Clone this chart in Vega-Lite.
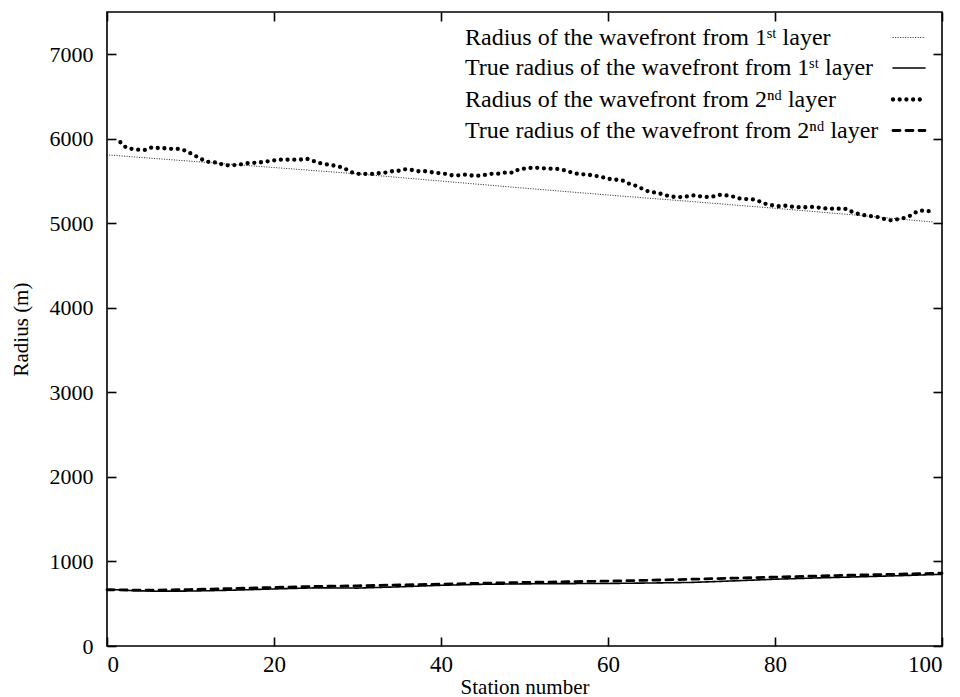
{
  "$schema": "https://vega.github.io/schema/vega-lite/v6.json",
  "width": 835,
  "height": 634,
  "autosize": "none",
  "padding": {"left": 107, "top": 12, "right": 18, "bottom": 51},
  "background": "white",
  "config": {
    "view": {"stroke": "black", "strokeWidth": 1.6},
    "font": "Liberation Serif",
    "style": {
      "guide-label": {"font": "Liberation Serif", "fontSize": 22, "fill": "black"},
      "guide-title": {"font": "Liberation Serif", "fontSize": 21, "fontWeight": "normal", "fill": "black"}
    },
    "axis": {"grid": false, "domain": false, "tickColor": "black", "tickWidth": 1.6, "tickSize": -9, "labelColor": "black", "labelFont": "Liberation Serif", "labelFontSize": 22, "labelFontWeight": "normal", "titleFont": "Liberation Serif", "titleFontWeight": "normal", "titleColor": "black", "titleFontSize": 21}
  },
  "data": {
    "values": [
      {"station": 0, "radius": 5810, "series": "Radius of the wavefront from 1ˢᵗ layer"},
      {"station": 10, "radius": 5735, "series": "Radius of the wavefront from 1ˢᵗ layer"},
      {"station": 20, "radius": 5660, "series": "Radius of the wavefront from 1ˢᵗ layer"},
      {"station": 30, "radius": 5585, "series": "Radius of the wavefront from 1ˢᵗ layer"},
      {"station": 40, "radius": 5500, "series": "Radius of the wavefront from 1ˢᵗ layer"},
      {"station": 50, "radius": 5416, "series": "Radius of the wavefront from 1ˢᵗ layer"},
      {"station": 60, "radius": 5335, "series": "Radius of the wavefront from 1ˢᵗ layer"},
      {"station": 70, "radius": 5258, "series": "Radius of the wavefront from 1ˢᵗ layer"},
      {"station": 80, "radius": 5178, "series": "Radius of the wavefront from 1ˢᵗ layer"},
      {"station": 90, "radius": 5095, "series": "Radius of the wavefront from 1ˢᵗ layer"},
      {"station": 99, "radius": 5015, "series": "Radius of the wavefront from 1ˢᵗ layer"},

      {"station": 0, "radius": 672, "series": "True radius of the wavefront from 1ˢᵗ layer"},
      {"station": 3, "radius": 655, "series": "True radius of the wavefront from 1ˢᵗ layer"},
      {"station": 6, "radius": 648, "series": "True radius of the wavefront from 1ˢᵗ layer"},
      {"station": 10, "radius": 650, "series": "True radius of the wavefront from 1ˢᵗ layer"},
      {"station": 15, "radius": 660, "series": "True radius of the wavefront from 1ˢᵗ layer"},
      {"station": 20, "radius": 675, "series": "True radius of the wavefront from 1ˢᵗ layer"},
      {"station": 25, "radius": 688, "series": "True radius of the wavefront from 1ˢᵗ layer"},
      {"station": 30, "radius": 685, "series": "True radius of the wavefront from 1ˢᵗ layer"},
      {"station": 35, "radius": 700, "series": "True radius of the wavefront from 1ˢᵗ layer"},
      {"station": 40, "radius": 718, "series": "True radius of the wavefront from 1ˢᵗ layer"},
      {"station": 45, "radius": 730, "series": "True radius of the wavefront from 1ˢᵗ layer"},
      {"station": 50, "radius": 735, "series": "True radius of the wavefront from 1ˢᵗ layer"},
      {"station": 55, "radius": 738, "series": "True radius of the wavefront from 1ˢᵗ layer"},
      {"station": 60, "radius": 740, "series": "True radius of the wavefront from 1ˢᵗ layer"},
      {"station": 65, "radius": 745, "series": "True radius of the wavefront from 1ˢᵗ layer"},
      {"station": 70, "radius": 752, "series": "True radius of the wavefront from 1ˢᵗ layer"},
      {"station": 75, "radius": 770, "series": "True radius of the wavefront from 1ˢᵗ layer"},
      {"station": 80, "radius": 790, "series": "True radius of the wavefront from 1ˢᵗ layer"},
      {"station": 85, "radius": 805, "series": "True radius of the wavefront from 1ˢᵗ layer"},
      {"station": 90, "radius": 818, "series": "True radius of the wavefront from 1ˢᵗ layer"},
      {"station": 95, "radius": 832, "series": "True radius of the wavefront from 1ˢᵗ layer"},
      {"station": 100, "radius": 848, "series": "True radius of the wavefront from 1ˢᵗ layer"},

      {"station": 1.6, "radius": 5959, "series": "Radius of the wavefront from 2ⁿᵈ layer"},
      {"station": 2.3, "radius": 5895, "series": "Radius of the wavefront from 2ⁿᵈ layer"},
      {"station": 3.0, "radius": 5880, "series": "Radius of the wavefront from 2ⁿᵈ layer"},
      {"station": 3.7, "radius": 5871, "series": "Radius of the wavefront from 2ⁿᵈ layer"},
      {"station": 4.6, "radius": 5868, "series": "Radius of the wavefront from 2ⁿᵈ layer"},
      {"station": 5.4, "radius": 5899, "series": "Radius of the wavefront from 2ⁿᵈ layer"},
      {"station": 6.1, "radius": 5891, "series": "Radius of the wavefront from 2ⁿᵈ layer"},
      {"station": 7.0, "radius": 5888, "series": "Radius of the wavefront from 2ⁿᵈ layer"},
      {"station": 7.8, "radius": 5880, "series": "Radius of the wavefront from 2ⁿᵈ layer"},
      {"station": 8.7, "radius": 5880, "series": "Radius of the wavefront from 2ⁿᵈ layer"},
      {"station": 9.5, "radius": 5856, "series": "Radius of the wavefront from 2ⁿᵈ layer"},
      {"station": 10.2, "radius": 5817, "series": "Radius of the wavefront from 2ⁿᵈ layer"},
      {"station": 11.0, "radius": 5777, "series": "Radius of the wavefront from 2ⁿᵈ layer"},
      {"station": 11.7, "radius": 5738, "series": "Radius of the wavefront from 2ⁿᵈ layer"},
      {"station": 12.5, "radius": 5718, "series": "Radius of the wavefront from 2ⁿᵈ layer"},
      {"station": 13.2, "radius": 5722, "series": "Radius of the wavefront from 2ⁿᵈ layer"},
      {"station": 14.0, "radius": 5686, "series": "Radius of the wavefront from 2ⁿᵈ layer"},
      {"station": 14.8, "radius": 5686, "series": "Radius of the wavefront from 2ⁿᵈ layer"},
      {"station": 15.8, "radius": 5694, "series": "Radius of the wavefront from 2ⁿᵈ layer"},
      {"station": 16.7, "radius": 5710, "series": "Radius of the wavefront from 2ⁿᵈ layer"},
      {"station": 17.3, "radius": 5714, "series": "Radius of the wavefront from 2ⁿᵈ layer"},
      {"station": 18.1, "radius": 5718, "series": "Radius of the wavefront from 2ⁿᵈ layer"},
      {"station": 19.0, "radius": 5730, "series": "Radius of the wavefront from 2ⁿᵈ layer"},
      {"station": 19.6, "radius": 5738, "series": "Radius of the wavefront from 2ⁿᵈ layer"},
      {"station": 20.5, "radius": 5753, "series": "Radius of the wavefront from 2ⁿᵈ layer"},
      {"station": 21.4, "radius": 5753, "series": "Radius of the wavefront from 2ⁿᵈ layer"},
      {"station": 22.2, "radius": 5753, "series": "Radius of the wavefront from 2ⁿᵈ layer"},
      {"station": 23.1, "radius": 5753, "series": "Radius of the wavefront from 2ⁿᵈ layer"},
      {"station": 23.9, "radius": 5765, "series": "Radius of the wavefront from 2ⁿᵈ layer"},
      {"station": 24.6, "radius": 5741, "series": "Radius of the wavefront from 2ⁿᵈ layer"},
      {"station": 25.4, "radius": 5714, "series": "Radius of the wavefront from 2ⁿᵈ layer"},
      {"station": 26.2, "radius": 5699, "series": "Radius of the wavefront from 2ⁿᵈ layer"},
      {"station": 27.0, "radius": 5686, "series": "Radius of the wavefront from 2ⁿᵈ layer"},
      {"station": 27.6, "radius": 5678, "series": "Radius of the wavefront from 2ⁿᵈ layer"},
      {"station": 28.4, "radius": 5651, "series": "Radius of the wavefront from 2ⁿᵈ layer"},
      {"station": 29.4, "radius": 5600, "series": "Radius of the wavefront from 2ⁿᵈ layer"},
      {"station": 30.2, "radius": 5584, "series": "Radius of the wavefront from 2ⁿᵈ layer"},
      {"station": 30.9, "radius": 5584, "series": "Radius of the wavefront from 2ⁿᵈ layer"},
      {"station": 31.8, "radius": 5584, "series": "Radius of the wavefront from 2ⁿᵈ layer"},
      {"station": 32.4, "radius": 5592, "series": "Radius of the wavefront from 2ⁿᵈ layer"},
      {"station": 33.3, "radius": 5600, "series": "Radius of the wavefront from 2ⁿᵈ layer"},
      {"station": 34.1, "radius": 5616, "series": "Radius of the wavefront from 2ⁿᵈ layer"},
      {"station": 34.8, "radius": 5619, "series": "Radius of the wavefront from 2ⁿᵈ layer"},
      {"station": 35.7, "radius": 5639, "series": "Radius of the wavefront from 2ⁿᵈ layer"},
      {"station": 36.5, "radius": 5631, "series": "Radius of the wavefront from 2ⁿᵈ layer"},
      {"station": 37.3, "radius": 5616, "series": "Radius of the wavefront from 2ⁿᵈ layer"},
      {"station": 38.1, "radius": 5616, "series": "Radius of the wavefront from 2ⁿᵈ layer"},
      {"station": 38.9, "radius": 5604, "series": "Radius of the wavefront from 2ⁿᵈ layer"},
      {"station": 39.6, "radius": 5596, "series": "Radius of the wavefront from 2ⁿᵈ layer"},
      {"station": 40.6, "radius": 5584, "series": "Radius of the wavefront from 2ⁿᵈ layer"},
      {"station": 41.3, "radius": 5568, "series": "Radius of the wavefront from 2ⁿᵈ layer"},
      {"station": 42.1, "radius": 5568, "series": "Radius of the wavefront from 2ⁿᵈ layer"},
      {"station": 42.9, "radius": 5576, "series": "Radius of the wavefront from 2ⁿᵈ layer"},
      {"station": 43.8, "radius": 5564, "series": "Radius of the wavefront from 2ⁿᵈ layer"},
      {"station": 44.6, "radius": 5564, "series": "Radius of the wavefront from 2ⁿᵈ layer"},
      {"station": 45.5, "radius": 5576, "series": "Radius of the wavefront from 2ⁿᵈ layer"},
      {"station": 46.2, "radius": 5588, "series": "Radius of the wavefront from 2ⁿᵈ layer"},
      {"station": 47.1, "radius": 5588, "series": "Radius of the wavefront from 2ⁿᵈ layer"},
      {"station": 47.7, "radius": 5600, "series": "Radius of the wavefront from 2ⁿᵈ layer"},
      {"station": 48.7, "radius": 5600, "series": "Radius of the wavefront from 2ⁿᵈ layer"},
      {"station": 49.3, "radius": 5639, "series": "Radius of the wavefront from 2ⁿᵈ layer"},
      {"station": 50.3, "radius": 5651, "series": "Radius of the wavefront from 2ⁿᵈ layer"},
      {"station": 51.1, "radius": 5659, "series": "Radius of the wavefront from 2ⁿᵈ layer"},
      {"station": 51.9, "radius": 5655, "series": "Radius of the wavefront from 2ⁿᵈ layer"},
      {"station": 52.8, "radius": 5647, "series": "Radius of the wavefront from 2ⁿᵈ layer"},
      {"station": 53.6, "radius": 5647, "series": "Radius of the wavefront from 2ⁿᵈ layer"},
      {"station": 54.3, "radius": 5639, "series": "Radius of the wavefront from 2ⁿᵈ layer"},
      {"station": 55.1, "radius": 5619, "series": "Radius of the wavefront from 2ⁿᵈ layer"},
      {"station": 55.8, "radius": 5596, "series": "Radius of the wavefront from 2ⁿᵈ layer"},
      {"station": 56.6, "radius": 5580, "series": "Radius of the wavefront from 2ⁿᵈ layer"},
      {"station": 57.4, "radius": 5580, "series": "Radius of the wavefront from 2ⁿᵈ layer"},
      {"station": 58.3, "radius": 5564, "series": "Radius of the wavefront from 2ⁿᵈ layer"},
      {"station": 59.1, "radius": 5553, "series": "Radius of the wavefront from 2ⁿᵈ layer"},
      {"station": 59.9, "radius": 5529, "series": "Radius of the wavefront from 2ⁿᵈ layer"},
      {"station": 60.7, "radius": 5517, "series": "Radius of the wavefront from 2ⁿᵈ layer"},
      {"station": 61.6, "radius": 5513, "series": "Radius of the wavefront from 2ⁿᵈ layer"},
      {"station": 62.4, "radius": 5474, "series": "Radius of the wavefront from 2ⁿᵈ layer"},
      {"station": 63.2, "radius": 5450, "series": "Radius of the wavefront from 2ⁿᵈ layer"},
      {"station": 63.9, "radius": 5418, "series": "Radius of the wavefront from 2ⁿᵈ layer"},
      {"station": 64.6, "radius": 5386, "series": "Radius of the wavefront from 2ⁿᵈ layer"},
      {"station": 65.2, "radius": 5367, "series": "Radius of the wavefront from 2ⁿᵈ layer"},
      {"station": 65.9, "radius": 5363, "series": "Radius of the wavefront from 2ⁿᵈ layer"},
      {"station": 66.7, "radius": 5336, "series": "Radius of the wavefront from 2ⁿᵈ layer"},
      {"station": 67.5, "radius": 5320, "series": "Radius of the wavefront from 2ⁿᵈ layer"},
      {"station": 68.3, "radius": 5308, "series": "Radius of the wavefront from 2ⁿᵈ layer"},
      {"station": 69.3, "radius": 5316, "series": "Radius of the wavefront from 2ⁿᵈ layer"},
      {"station": 70.1, "radius": 5332, "series": "Radius of the wavefront from 2ⁿᵈ layer"},
      {"station": 70.7, "radius": 5324, "series": "Radius of the wavefront from 2ⁿᵈ layer"},
      {"station": 71.6, "radius": 5312, "series": "Radius of the wavefront from 2ⁿᵈ layer"},
      {"station": 72.4, "radius": 5312, "series": "Radius of the wavefront from 2ⁿᵈ layer"},
      {"station": 73.3, "radius": 5336, "series": "Radius of the wavefront from 2ⁿᵈ layer"},
      {"station": 74.1, "radius": 5332, "series": "Radius of the wavefront from 2ⁿᵈ layer"},
      {"station": 74.9, "radius": 5320, "series": "Radius of the wavefront from 2ⁿᵈ layer"},
      {"station": 75.6, "radius": 5296, "series": "Radius of the wavefront from 2ⁿᵈ layer"},
      {"station": 76.4, "radius": 5288, "series": "Radius of the wavefront from 2ⁿᵈ layer"},
      {"station": 77.3, "radius": 5284, "series": "Radius of the wavefront from 2ⁿᵈ layer"},
      {"station": 78.1, "radius": 5261, "series": "Radius of the wavefront from 2ⁿᵈ layer"},
      {"station": 78.9, "radius": 5229, "series": "Radius of the wavefront from 2ⁿᵈ layer"},
      {"station": 79.7, "radius": 5213, "series": "Radius of the wavefront from 2ⁿᵈ layer"},
      {"station": 80.4, "radius": 5202, "series": "Radius of the wavefront from 2ⁿᵈ layer"},
      {"station": 81.4, "radius": 5209, "series": "Radius of the wavefront from 2ⁿᵈ layer"},
      {"station": 82.2, "radius": 5194, "series": "Radius of the wavefront from 2ⁿᵈ layer"},
      {"station": 83.0, "radius": 5190, "series": "Radius of the wavefront from 2ⁿᵈ layer"},
      {"station": 83.8, "radius": 5190, "series": "Radius of the wavefront from 2ⁿᵈ layer"},
      {"station": 84.5, "radius": 5194, "series": "Radius of the wavefront from 2ⁿᵈ layer"},
      {"station": 85.3, "radius": 5186, "series": "Radius of the wavefront from 2ⁿᵈ layer"},
      {"station": 86.2, "radius": 5174, "series": "Radius of the wavefront from 2ⁿᵈ layer"},
      {"station": 87.0, "radius": 5174, "series": "Radius of the wavefront from 2ⁿᵈ layer"},
      {"station": 87.8, "radius": 5174, "series": "Radius of the wavefront from 2ⁿᵈ layer"},
      {"station": 88.6, "radius": 5170, "series": "Radius of the wavefront from 2ⁿᵈ layer"},
      {"station": 89.2, "radius": 5138, "series": "Radius of the wavefront from 2ⁿᵈ layer"},
      {"station": 90.1, "radius": 5107, "series": "Radius of the wavefront from 2ⁿᵈ layer"},
      {"station": 90.8, "radius": 5095, "series": "Radius of the wavefront from 2ⁿᵈ layer"},
      {"station": 91.6, "radius": 5083, "series": "Radius of the wavefront from 2ⁿᵈ layer"},
      {"station": 92.4, "radius": 5072, "series": "Radius of the wavefront from 2ⁿᵈ layer"},
      {"station": 93.2, "radius": 5048, "series": "Radius of the wavefront from 2ⁿᵈ layer"},
      {"station": 94.0, "radius": 5032, "series": "Radius of the wavefront from 2ⁿᵈ layer"},
      {"station": 94.8, "radius": 5052, "series": "Radius of the wavefront from 2ⁿᵈ layer"},
      {"station": 95.7, "radius": 5068, "series": "Radius of the wavefront from 2ⁿᵈ layer"},
      {"station": 96.3, "radius": 5095, "series": "Radius of the wavefront from 2ⁿᵈ layer"},
      {"station": 97.0, "radius": 5138, "series": "Radius of the wavefront from 2ⁿᵈ layer"},
      {"station": 97.8, "radius": 5154, "series": "Radius of the wavefront from 2ⁿᵈ layer"},
      {"station": 98.7, "radius": 5138, "series": "Radius of the wavefront from 2ⁿᵈ layer"},

      {"station": 0, "radius": 665, "series": "True radius of the wavefront from 2ⁿᵈ layer"},
      {"station": 5, "radius": 660, "series": "True radius of the wavefront from 2ⁿᵈ layer"},
      {"station": 10, "radius": 668, "series": "True radius of the wavefront from 2ⁿᵈ layer"},
      {"station": 15, "radius": 680, "series": "True radius of the wavefront from 2ⁿᵈ layer"},
      {"station": 20, "radius": 692, "series": "True radius of the wavefront from 2ⁿᵈ layer"},
      {"station": 25, "radius": 705, "series": "True radius of the wavefront from 2ⁿᵈ layer"},
      {"station": 30, "radius": 712, "series": "True radius of the wavefront from 2ⁿᵈ layer"},
      {"station": 35, "radius": 722, "series": "True radius of the wavefront from 2ⁿᵈ layer"},
      {"station": 40, "radius": 732, "series": "True radius of the wavefront from 2ⁿᵈ layer"},
      {"station": 45, "radius": 742, "series": "True radius of the wavefront from 2ⁿᵈ layer"},
      {"station": 50, "radius": 752, "series": "True radius of the wavefront from 2ⁿᵈ layer"},
      {"station": 55, "radius": 760, "series": "True radius of the wavefront from 2ⁿᵈ layer"},
      {"station": 60, "radius": 768, "series": "True radius of the wavefront from 2ⁿᵈ layer"},
      {"station": 65, "radius": 778, "series": "True radius of the wavefront from 2ⁿᵈ layer"},
      {"station": 70, "radius": 790, "series": "True radius of the wavefront from 2ⁿᵈ layer"},
      {"station": 75, "radius": 802, "series": "True radius of the wavefront from 2ⁿᵈ layer"},
      {"station": 80, "radius": 815, "series": "True radius of the wavefront from 2ⁿᵈ layer"},
      {"station": 85, "radius": 828, "series": "True radius of the wavefront from 2ⁿᵈ layer"},
      {"station": 90, "radius": 840, "series": "True radius of the wavefront from 2ⁿᵈ layer"},
      {"station": 95, "radius": 850, "series": "True radius of the wavefront from 2ⁿᵈ layer"},
      {"station": 100, "radius": 862, "series": "True radius of the wavefront from 2ⁿᵈ layer"}
    ]
  },
  "layer": [
    {
      "mark": {"type": "line", "color": "black", "strokeCap": "round", "strokeJoin": "round"},
      "encoding": {
        "x": {
          "field": "station", "type": "quantitative",
          "scale": {"domain": [0, 100], "nice": false, "zero": false},
          "axis": {"orient": "bottom", "values": [0, 20, 40, 60, 80, 100], "format": "d", "labelFont": "Liberation Serif", "labelFontSize": 23, "labelPadding": 16, "title": "Station number", "titleFont": "Liberation Serif", "titleFontSize": 21, "titlePadding": 0}
        },
        "y": {
          "field": "radius", "type": "quantitative",
          "scale": {"domain": [0, 7500], "nice": false},
          "axis": {"orient": "left", "values": [0, 1000, 2000, 3000, 4000, 5000, 6000, 7000], "format": "d", "labelFont": "Liberation Serif", "labelFontSize": 22, "labelPadding": 23, "title": "Radius (m)", "titleFont": "Liberation Serif", "titleFontSize": 21, "titlePadding": 18}
        },
        "strokeDash": {
          "field": "series", "type": "nominal",
          "scale": {
            "domain": ["Radius of the wavefront from 1ˢᵗ layer", "True radius of the wavefront from 1ˢᵗ layer", "Radius of the wavefront from 2ⁿᵈ layer", "True radius of the wavefront from 2ⁿᵈ layer"],
            "range": [[0.3, 2.2], [1, 0], [0, 6.7], [7, 6]]
          },
          "legend": {
            "orient": "none", "legendX": 358, "legendY": 9, "title": null, "padding": 0,
            "labelFont": "Liberation Serif", "labelFontSize": 24, "labelColor": "black", "labelLimit": 0,
            "symbolType": "stroke", "symbolSize": 1024, "symbolStrokeColor": "black", "rowPadding": 1,
            "encode": {
              "symbols": {"update": {"x": {"value": 444}, "strokeCap": {"value": "round"}, "stroke": {"value": "black"}}},
              "labels": {"update": {"x": {"value": 0}, "align": {"value": "left"}}}
            }
          }
        },
        "strokeWidth": {
          "field": "series", "type": "nominal",
          "scale": {
            "type": "ordinal",
            "domain": ["Radius of the wavefront from 1ˢᵗ layer", "True radius of the wavefront from 1ˢᵗ layer", "Radius of the wavefront from 2ⁿᵈ layer", "True radius of the wavefront from 2ⁿᵈ layer"],
            "range": [0.8, 1.6, 4.3, 2.8]
          },
          "legend": {
            "orient": "none", "legendX": 358, "legendY": 9, "title": null, "padding": 0,
            "labelFont": "Liberation Serif", "labelFontSize": 24, "labelColor": "black", "labelLimit": 0,
            "symbolType": "stroke", "symbolSize": 1024, "symbolStrokeColor": "black", "rowPadding": 1,
            "encode": {
              "symbols": {"update": {"x": {"value": 444}, "strokeCap": {"value": "round"}, "stroke": {"value": "black"}}},
              "labels": {"update": {"x": {"value": 0}, "align": {"value": "left"}}}
            }
          }
        }
      }
    },
    {
      "mark": {"type": "line", "strokeOpacity": 0},
      "encoding": {
        "x": {"field": "station", "type": "quantitative", "axis": {"orient": "top", "values": [0, 20, 40, 60, 80, 100], "labels": false, "title": null}},
        "y": {"field": "radius", "type": "quantitative", "axis": {"orient": "right", "values": [0, 1000, 2000, 3000, 4000, 5000, 6000, 7000], "labels": false, "title": null}},
        "detail": {"field": "series", "type": "nominal"}
      }
    }
  ],
  "resolve": {"axis": {"x": "independent", "y": "independent"}}
}
